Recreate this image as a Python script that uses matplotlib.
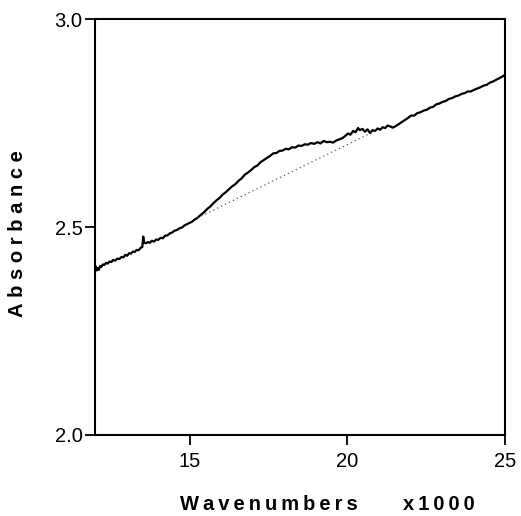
import matplotlib.pyplot as plt

plt.rcParams['font.family'] = ['Liberation Sans', 'DejaVu Sans']

# spectrum (wavenumber / 1000, absorbance)
wavenumber = [12.00, 12.03, 12.06, 12.09, 12.12, 12.16, 12.20, 12.25, 12.30, 12.35,
              12.40, 12.46, 12.52, 12.58, 12.64, 12.70, 12.77, 12.84, 12.90, 12.96,
              13.02, 13.08, 13.14, 13.20, 13.26, 13.32, 13.38, 13.45, 13.50, 13.53,
              13.56, 13.62, 13.68, 13.74, 13.80, 13.87, 13.94, 14.00, 14.08, 14.15,
              14.22, 14.30, 14.38, 14.45, 14.52, 14.60, 14.68, 14.76, 14.84, 14.92,
              15.00, 15.08, 15.16, 15.25, 15.35, 15.45, 15.55, 15.65, 15.75, 15.85,
              15.95, 16.05, 16.15, 16.25, 16.35, 16.45, 16.55, 16.65, 16.75, 16.85,
              16.95, 17.05, 17.15, 17.25, 17.35, 17.45, 17.55, 17.65, 17.75, 17.85,
              17.95, 18.05, 18.15, 18.25, 18.35, 18.45, 18.55, 18.65, 18.75, 18.85,
              18.95, 19.05, 19.15, 19.25, 19.35, 19.45, 19.55, 19.65, 19.75, 19.85,
              19.95, 20.02, 20.10, 20.18, 20.26, 20.34, 20.40, 20.48, 20.56, 20.64,
              20.72, 20.80, 20.88, 20.96, 21.04, 21.12, 21.20, 21.28, 21.36, 21.44,
              21.52, 21.62, 21.72, 21.82, 21.92, 22.02, 22.12, 22.22, 22.32, 22.42,
              22.52, 22.62, 22.72, 22.82, 22.92, 23.02, 23.12, 23.22, 23.32, 23.42,
              23.52, 23.62, 23.72, 23.82, 23.92, 24.02, 24.12, 24.22, 24.32, 24.42,
              24.52, 24.62, 24.72, 24.82, 24.92, 25.00]
absorbance = [2.392, 2.405, 2.396, 2.401, 2.397, 2.406, 2.404, 2.410, 2.409, 2.414,
              2.412, 2.417, 2.416, 2.421, 2.419, 2.424, 2.423, 2.428, 2.427, 2.433,
              2.431, 2.437, 2.436, 2.441, 2.440, 2.445, 2.444, 2.450, 2.452, 2.477,
              2.462, 2.461, 2.464, 2.462, 2.467, 2.465, 2.470, 2.469, 2.474, 2.473,
              2.479, 2.480, 2.485, 2.487, 2.491, 2.493, 2.497, 2.499, 2.504, 2.507,
              2.510, 2.513, 2.518, 2.522, 2.529, 2.535, 2.543, 2.549, 2.557, 2.564,
              2.570, 2.578, 2.584, 2.591, 2.598, 2.603, 2.611, 2.617, 2.626, 2.631,
              2.637, 2.644, 2.648, 2.656, 2.661, 2.666, 2.671, 2.677, 2.678, 2.683,
              2.684, 2.688, 2.687, 2.692, 2.691, 2.696, 2.695, 2.699, 2.698, 2.702,
              2.700, 2.704, 2.701, 2.707, 2.704, 2.705, 2.703, 2.708, 2.711, 2.714,
              2.720, 2.725, 2.722, 2.731, 2.728, 2.738, 2.733, 2.736, 2.729, 2.735,
              2.726, 2.733, 2.731, 2.737, 2.734, 2.740, 2.738, 2.744, 2.742, 2.739,
              2.742, 2.747, 2.752, 2.757, 2.762, 2.768, 2.768, 2.774, 2.776, 2.780,
              2.782, 2.787, 2.789, 2.795, 2.797, 2.801, 2.803, 2.808, 2.810, 2.814,
              2.816, 2.820, 2.822, 2.826, 2.826, 2.830, 2.833, 2.836, 2.840, 2.842,
              2.847, 2.850, 2.854, 2.858, 2.862, 2.866]

# dotted baseline under the band
base_x = [15.25, 20.80]
base_y = [2.522, 2.728]

x_ticks = [15, 20, 25]
y_ticks = [2.0, 2.5, 3.0]

fig = plt.figure(figsize=(5.21, 5.16), dpi=100)
ax = fig.add_axes([0.1823, 0.157, 0.787, 0.806])

ax.plot(wavenumber, absorbance, color='black', linewidth=1.6)
ax.plot(base_x, base_y, color='#555555', linewidth=0.9, linestyle=(0, (1, 2.5)))

ax.set_xlim(12, 25)
ax.set_ylim(2.0, 3.0)
ax.set_xticks(x_ticks)
ax.set_yticks(y_ticks)
ax.set_yticklabels([f"{v:.1f}" for v in y_ticks])

for s in ax.spines.values():
    s.set_linewidth(1.5)
ax.tick_params(direction='out', length=7, width=1.3, labelsize=14.5)
ax.tick_params(axis='y', pad=2)
ax.tick_params(axis='x', pad=5)

sp = '\u2009'
fig.text(0.033, 0.548, (sp + '\u200a').join('Absorbance'), rotation=90,
         ha='center', va='center', fontsize=14.5, fontweight='bold')
fig.text(0.516, 0.023, sp.join('Wavenumbers'), ha='center', va='center',
         fontsize=14.5, fontweight='bold')
fig.text(0.843, 0.023, sp.join('x1000'), ha='center', va='center',
         fontsize=14.5, fontweight='bold')

fig.savefig('out.png', dpi=100, facecolor='white')
